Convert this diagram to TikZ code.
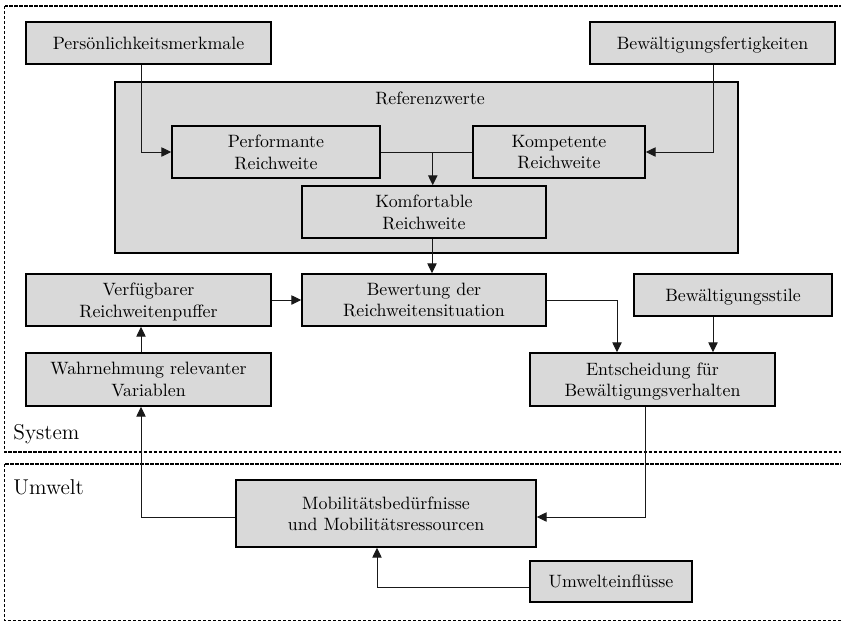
\documentclass[tikz,border=0pt]{standalone}
\usetikzlibrary{calc,arrows.meta}
\definecolor{boxfill}{RGB}{217,217,217}
\definecolor{linecol}{RGB}{25,25,25}
\begin{document}
\begin{tikzpicture}[x=0.56pt,y=-0.56pt,
  box/.style={draw=black,fill=boxfill,line width=0.85pt,align=center,inner sep=0pt,font=\normalsize,text depth=0pt},
  arr/.style={draw=linecol,line width=0.55pt,-{Triangle[length=5.5pt,width=5.2pt]}},
  conn/.style={draw=linecol,line width=0.55pt},
  region/.style={draw=black,line width=0.9pt,dash pattern=on 1.7pt off 1.1pt},
  tag/.style={font=\large,anchor=west,inner sep=0pt}]
\useasboundingbox (0,0) rectangle (841,622);
% regions
\draw[region] (4.5,6) rectangle (845,452);
\draw[region] (4.5,464) rectangle (845,620.5);
\node[tag] (system) at (13,434) {System};
\node[tag] (umwelt) at (13,487) {Umwelt};
% nodes
\node[box,minimum width=245*0.56pt,minimum height=42*0.56pt] (pers) at (148.5,43) {Persönlichkeitsmerkmale};
\node[box,minimum width=245*0.56pt,minimum height=42*0.56pt] (bewf) at (712.5,43) {Bewältigungsfertigkeiten};
\node[box,minimum width=623*0.56pt,minimum height=171*0.56pt] (ref) at (426.5,167.5) {};
\node[inner sep=0pt] (reflabel) at (430,98) {Referenzwerte};
\node[box,minimum width=208*0.56pt,minimum height=52*0.56pt] (perf) at (276,152) {Performante\\Reichweite};
\node[box,minimum width=172*0.56pt,minimum height=52*0.56pt] (komp) at (559,152) {Kompetente\\Reichweite};
\node[box,minimum width=244*0.56pt,minimum height=52*0.56pt] (komf) at (424,212) {Komfortable\\Reichweite};
\node[box,minimum width=245*0.56pt,minimum height=52*0.56pt] (verf) at (148.5,300) {Verfügbarer\\Reichweitenpuffer};
\node[box,minimum width=244*0.56pt,minimum height=52*0.56pt] (bew) at (424,300) {Bewertung der\\Reichweitensituation};
\node[box,minimum width=198*0.56pt,minimum height=42*0.56pt] (stile) at (733,295) {Bewältigungsstile};
\node[box,minimum width=245*0.56pt,minimum height=53*0.56pt] (ent) at (652.5,379.5) {Entscheidung für\\Bewältigungsverhalten};
\node[box,minimum width=245*0.56pt,minimum height=53*0.56pt] (wahr) at (148.5,379.5) {Wahrnehmung relevanter\\Variablen};
\node[box,minimum width=300*0.56pt,minimum height=67*0.56pt] (mob) at (386,513.5) {Mobilitätsbedürfnisse\\und Mobilitätsressourcen};
\node[box,minimum width=162*0.56pt,minimum height=41*0.56pt] (umw) at (611,581.5) {Umwelteinflüsse};
% connectors
\draw[arr] ($(pers.south)+(-7.5,0)$) |- (perf.west);
\draw[arr] ($(bewf.south)+(0.5,0)$) |- (komp.east);
\draw[conn] (perf.east) -- (komp.west);
\coordinate (mid) at ($(perf.east)+(52,0)$);
\draw[arr] (mid) -- (mid |- komf.north);
\draw[arr] ($(komf.south)+(8,0)$) -- ($(bew.north)+(8,0)$);
\draw[arr] (verf.east) -- (bew.west);
\draw[arr] (bew.east) -| ($(ent.north)+(-35.5,0)$);
\draw[arr] ($(stile.south)+(-20,0)$) -- ($(ent.north)+(60.5,0)$);
\draw[arr] ($(wahr.north)+(-7.5,0)$) -- ($(verf.south)+(-7.5,0)$);
\draw[arr] ($(mob.west)+(0,3.5)$) -| ($(wahr.south)+(-7.5,0)$);
\draw[arr] ($(ent.south)+(-7.5,0)$) |- ($(mob.east)+(0,3.5)$);
\draw[arr] ($(umw.west)+(0,5.5)$) -| ($(mob.south)+(-9,0)$);
\end{tikzpicture}
\end{document}
